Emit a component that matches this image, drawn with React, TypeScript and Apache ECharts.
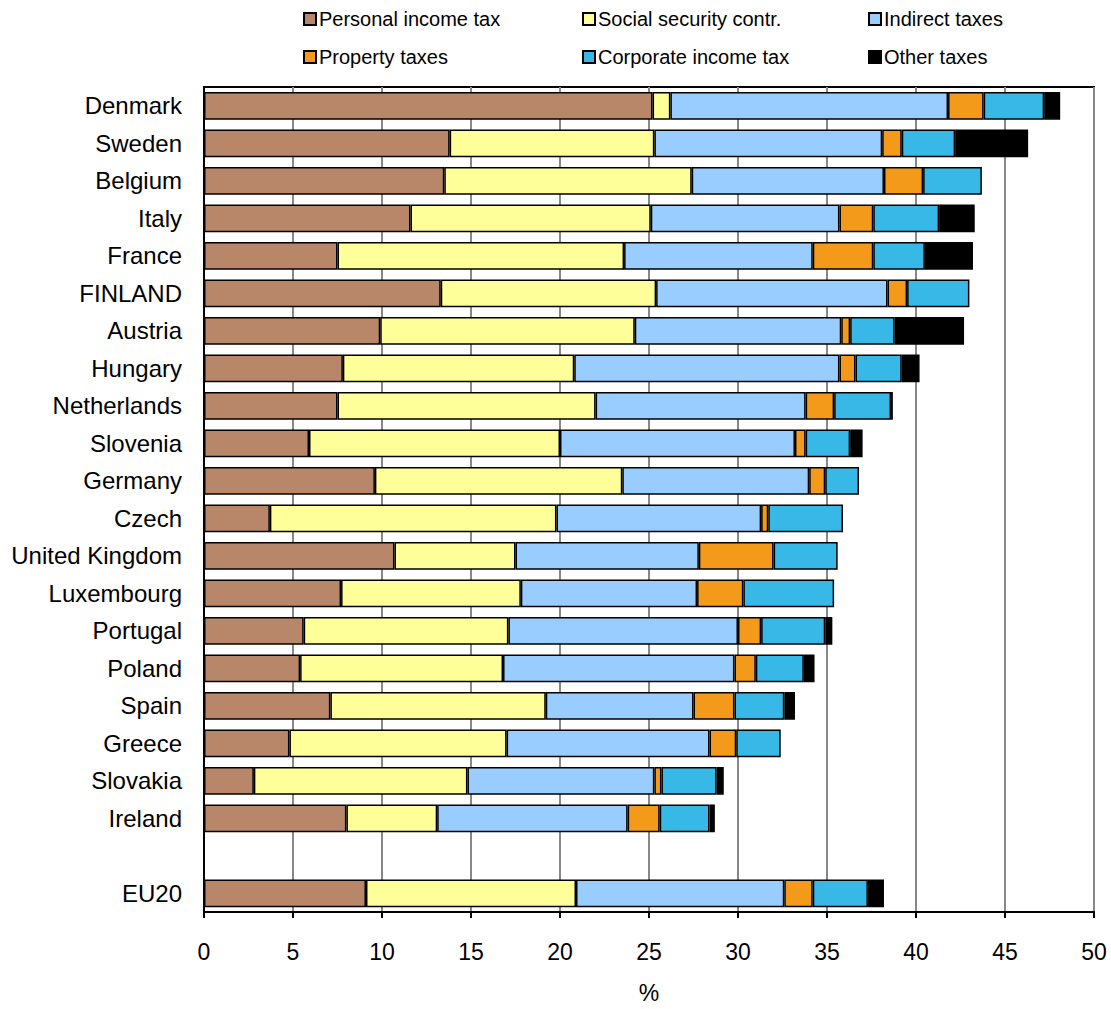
import React, { useEffect, useRef } from "react";
import * as echarts from "echarts";

const countries = ["Denmark","Sweden","Belgium","Italy","France","FINLAND","Austria","Hungary","Netherlands","Slovenia","Germany","Czech","United Kingdom","Luxembourg","Portugal","Poland","Spain","Greece","Slovakia","Ireland","","EU20"];

const personalIncome = [25.2,13.8,13.5,11.6,7.5,13.3,9.9,7.8,7.5,5.9,9.6,3.7,10.7,7.7,5.6,5.4,7.1,4.8,2.8,8.0,null,9.1];
const socialSecurity = [1.0,11.5,13.9,13.5,16.1,12.1,14.3,13.0,14.5,14.1,13.9,16.1,6.8,10.1,11.5,11.4,12.1,12.2,12.0,5.1,null,11.8];
const indirectTaxes = [15.6,12.8,10.8,10.6,10.6,13.0,11.6,14.9,11.8,13.2,10.5,11.5,10.3,9.9,12.9,13.0,8.3,11.4,10.5,10.7,null,11.7];
const propertyTaxes = [2.0,1.1,2.2,1.9,3.4,1.1,0.5,0.9,1.6,0.6,0.9,0.4,4.2,2.6,1.3,1.2,2.3,1.5,0.4,1.8,null,1.6];
const corporateIncome = [3.4,3.0,3.3,3.7,2.9,3.5,2.5,2.6,3.2,2.5,1.9,4.2,3.6,5.1,3.6,2.7,2.8,2.5,3.1,2.8,null,3.1];
const otherTaxes = [0.9,4.1,null,2.0,2.7,null,3.9,1.0,0.1,0.7,null,null,null,null,0.4,0.6,0.6,null,0.4,0.3,null,0.9];

const seriesNames = ["Personal income tax","Social security contr.","Indirect taxes","Property taxes","Corporate income tax","Other taxes"];
const seriesColors = ["#B8876A","#FFFF99","#99CCFF","#F39A1A","#38B8E6","#000000"];
const seriesData = [personalIncome, socialSecurity, indirectTaxes, propertyTaxes, corporateIncome, otherTaxes];

const FONT = "'Liberation Sans', Arial, sans-serif";

export default function App() {
  const ref = useRef<HTMLDivElement>(null);
  useEffect(() => {
    document.body.style.margin = "0";
    const chart = echarts.init(ref.current!, null, { renderer: "svg" });
    const legendPos = [
      { left: 303, top: 9 },
      { left: 582, top: 9 },
      { left: 868, top: 9 },
      { left: 303, top: 47 },
      { left: 582, top: 47 },
      { left: 868, top: 47 },
    ];
    chart.setOption({
      animation: false,
      backgroundColor: "#fff",
      textStyle: { fontFamily: FONT },
      legend: seriesNames.map((n, i) => ({
        data: [n],
        left: legendPos[i].left,
        top: legendPos[i].top,
        orient: "horizontal",
        icon: "rect",
        itemWidth: 12,
        itemHeight: 12,
        itemGap: 0,
        padding: 0,
        selectedMode: false,
        itemStyle: { borderColor: "#000", borderWidth: 2 },
        textStyle: { fontSize: 20, color: "#000", fontFamily: FONT, padding: [0, 0, 0, -2] },
      })),
      grid: {
        left: 204,
        right: 17,
        top: 87,
        bottom: 91,
        show: true,
        borderColor: "#000",
        borderWidth: 2,
        containLabel: false,
      },
      xAxis: {
        type: "value",
        min: 0,
        max: 50,
        interval: 5,
        name: "%",
        nameLocation: "middle",
        nameGap: 69,
        nameTextStyle: { fontSize: 23, color: "#000", fontFamily: FONT },
        axisLine: { show: true, lineStyle: { color: "#000", width: 2 } },
        axisTick: { show: true, length: 6, lineStyle: { color: "#000", width: 2 } },
        axisLabel: { fontSize: 23, color: "#000", margin: 28, fontFamily: FONT },
        splitLine: { show: true, lineStyle: { color: "#888", width: 2 } },
      },
      yAxis: {
        type: "category",
        inverse: true,
        data: countries,
        axisLine: { show: true, lineStyle: { color: "#000", width: 2 } },
        axisTick: { show: false },
        axisLabel: { fontSize: 24, color: "#000", margin: 22, fontFamily: FONT },
        splitLine: { show: false },
      },
      series: seriesNames.map((n, i) => ({
        name: n,
        type: "bar",
        stack: "total",
        data: seriesData[i],
        barCategoryGap: "26%",
        itemStyle: { color: seriesColors[i], borderColor: "#000", borderWidth: 1.5 },
        emphasis: { disabled: true },
      })),
    });
    return () => chart.dispose();
  }, []);
  return <div ref={ref} style={{ width: 1111, height: 1009 }} />;
}
